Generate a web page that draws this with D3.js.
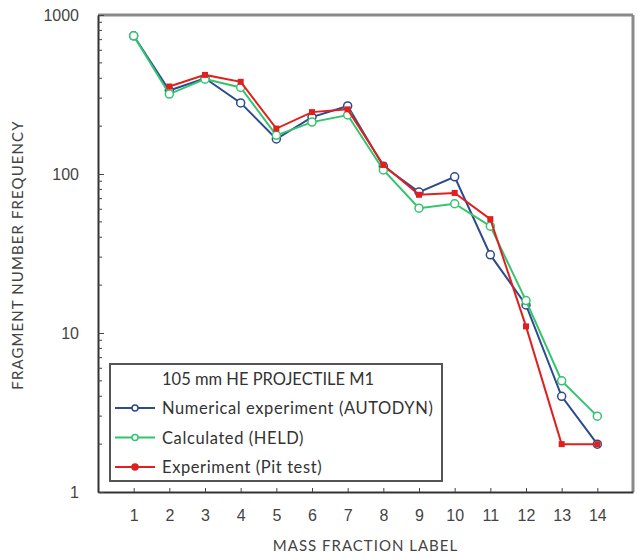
<!DOCTYPE html>
<html>
<head>
<meta charset="utf-8">
<script src="https://cdn.jsdelivr.net/npm/d3@7"></script>
<style>
  body { margin: 0; background: #fff; }
  svg { display: block; font-family: Lato, "Open Sans", sans-serif; }
</style>
</head>
<body>
<div id="chart"></div>
<script>
// mass fraction labels
const labels = [1, 2, 3, 4, 5, 6, 7, 8, 9, 10, 11, 12, 13, 14]

// fragment counts (pit test has no value for label 1)
const autodyn = [740, 335, 400, 280, 166, 228, 268, 112, 77, 96, 31, 15, 4, 2]
const held    = [740, 318, 395, 350, 175, 212, 235, 106, 61, 65, 47, 16, 5, 3]
const pitTest = [null, 355, 420, 380, 193, 245, 255, 114, 74, 76, 52, 11, 2, 2]

const yTicks = [1, 10, 100, 1000]
const legendTitle = "105 mm HE PROJECTILE M1"

const series = [
  { name: "Numerical experiment (AUTODYN)", values: autodyn, color: "#2c4a8c", marker: "circle" },
  { name: "Calculated (HELD)", values: held, color: "#33c46e", marker: "circle" },
  { name: "Experiment (Pit test)", values: pitTest, color: "#e0201f", marker: "square" }
]

const width = 638, height = 559
const margin = { top: 15, right: 5, bottom: 67, left: 98 }

const svg = d3.select("#chart").append("svg")
  .attr("width", width)
  .attr("height", height)

const x = d3.scaleLinear()
  .domain([0, 15])
  .range([margin.left, width - margin.right])

const y = d3.scaleLog()
  .domain([1, 1000])
  .range([height - margin.bottom, margin.top])

// frame: top and right are grey
svg.append("line")
  .attr("x1", margin.left).attr("x2", width - margin.right)
  .attr("y1", margin.top).attr("y2", margin.top)
  .attr("stroke", "#8a8a8a").attr("stroke-width", 3)
svg.append("line")
  .attr("x1", width - margin.right).attr("x2", width - margin.right)
  .attr("y1", margin.top).attr("y2", height - margin.bottom)
  .attr("stroke", "#8a8a8a").attr("stroke-width", 3)

// x axis, ticks pointing inward
const xAxis = svg.append("g")
  .attr("transform", "translate(0," + (height - margin.bottom) + ")")
  .call(d3.axisBottom(x).tickValues(labels).tickSize(-4).tickPadding(18).tickSizeOuter(0))
xAxis.select(".domain").attr("stroke", "#333").attr("stroke-width", 2)
xAxis.selectAll(".tick line").attr("stroke", "#444")
xAxis.selectAll("text").attr("font-size", 16).attr("fill", "#444")

// y axis, log scale, major + minor ticks inward
const minor = []
for (let d = 1; d < 1000; d *= 10) for (let k = 2; k <= 9; k++) minor.push(d * k)

const yAxis = svg.append("g")
  .attr("transform", "translate(" + margin.left + ",0)")
  .call(d3.axisLeft(y).tickValues(yTicks).tickFormat(d3.format("d")).tickSize(-6).tickPadding(19).tickSizeOuter(0))
yAxis.select(".domain").attr("stroke", "#333").attr("stroke-width", 2)
yAxis.selectAll(".tick line").attr("stroke", "#444")
yAxis.selectAll("text").attr("font-size", 16).attr("fill", "#444")

svg.append("g").selectAll("line")
  .data(minor)
  .enter().append("line")
    .attr("x1", margin.left).attr("x2", margin.left + 4)
    .attr("y1", d => y(d)).attr("y2", d => y(d))
    .attr("stroke", "#444")

// axis titles
svg.append("text")
  .attr("transform", "translate(23,255) rotate(-90)")
  .attr("text-anchor", "middle")
  .attr("font-size", 15)
  .attr("letter-spacing", 1.1)
  .attr("fill", "#444")
  .text("FRAGMENT NUMBER FREQUENCY")

svg.append("text")
  .attr("x", x(7.5))
  .attr("y", 551)
  .attr("text-anchor", "middle")
  .attr("font-size", 15)
  .attr("letter-spacing", 1)
  .attr("fill", "#444")
  .text("MASS FRACTION LABEL")

// lines + markers
const line = d3.line()
  .defined(d => d != null)
  .x((d, i) => x(labels[i]))
  .y(d => y(d))

series.forEach(s => {
  const g = svg.append("g")
  const pts = s.values.map((v, i) => ({ v, i })).filter(d => d.v != null)
  g.append("path")
    .datum(s.values)
    .attr("fill", "none")
    .attr("stroke", s.color)
    .attr("stroke-width", 2)
    .attr("d", line)
  if (s.marker === "circle") {
    g.selectAll("circle")
      .data(pts)
      .enter().append("circle")
        .attr("cx", d => x(labels[d.i]))
        .attr("cy", d => y(d.v))
        .attr("r", 4)
        .attr("fill", "#fff")
        .attr("stroke", s.color)
        .attr("stroke-width", 1.5)
  } else {
    g.selectAll("rect")
      .data(pts)
      .enter().append("rect")
        .attr("x", d => x(labels[d.i]) - 3)
        .attr("y", d => y(d.v) - 3)
        .attr("width", 6)
        .attr("height", 6)
        .attr("fill", s.color)
  }
})

// legend
const legend = svg.append("g").attr("transform", "translate(110,364)")
legend.append("rect")
  .attr("width", 332).attr("height", 117)
  .attr("fill", "#fff")
  .attr("stroke", "#555")
  .attr("stroke-width", 2)
legend.append("text")
  .attr("x", 52).attr("y", 21)
  .attr("font-size", 16.5).attr("fill", "#333")
  .text(legendTitle)

const item = legend.selectAll(".item")
  .data(series)
  .enter().append("g")
    .attr("class", "item")
    .attr("transform", (d, i) => "translate(0," + (44 + i * 29.5) + ")")
item.append("line")
  .attr("x1", 5).attr("x2", 45)
  .attr("stroke", d => d.color).attr("stroke-width", 2)
item.append("circle")
  .attr("cx", 25).attr("r", 3)
  .attr("fill", d => d.marker === "circle" ? "#fff" : d.color)
  .attr("stroke", d => d.color).attr("stroke-width", 1.5)
item.append("text")
  .attr("x", 52).attr("y", 6)
  .attr("font-size", 16.5)
  .attr("letter-spacing", 0.6)
  .attr("fill", "#333")
  .text(d => d.name)
</script>
</body>
</html>
